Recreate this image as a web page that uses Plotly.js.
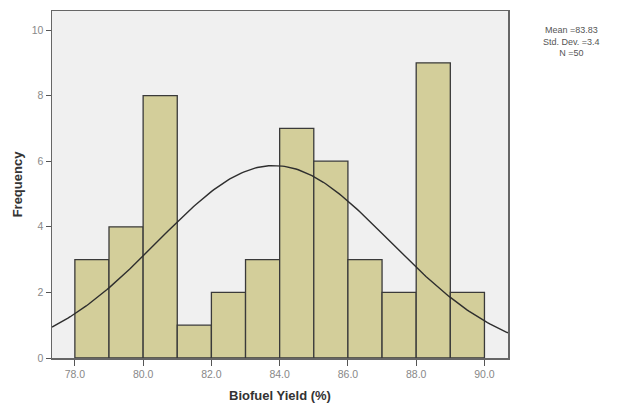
<!DOCTYPE html>
<html><head><meta charset="utf-8">
<script src="https://cdn.plot.ly/plotly-3.0.1.min.js"></script>
<style>body{margin:0;background:#fff}#c{width:625px;height:403px}</style>
</head><body><div id="c"></div>
<script>
const binStarts = [78,79,80,81,82,83,84,85,86,87,88,89];
const counts = [3,4,8,1,2,3,7,6,3,2,9,2];
const binWidth = 1;
const mean = 83.83, sd = 3.4, N = 50;
const xTicks = [78,80,82,84,86,88,90];
const xTickText = ["78.0","80.0","82.0","84.0","86.0","88.0","90.0"];
const yTicks = [0,2,4,6,8,10];

const centers = binStarts.map(s => s + binWidth/2);
const cx = [], cy = [];
for (let i = 0; i <= 200; i++) {
  const x = 77.33 + (90.69 - 77.33) * i / 200;
  cx.push(x);
  cy.push(N * binWidth / (sd * Math.sqrt(2*Math.PI)) * Math.exp(-0.5*Math.pow((x-mean)/sd,2)));
}
const traces = [
  {type:'bar', x: centers, y: counts, width: binWidth,
   marker:{color:'rgb(211,206,154)', line:{color:'#3a3a3a', width:1.3}}, hoverinfo:'none'},
  {type:'scatter', mode:'lines', x: cx, y: cy, line:{color:'#2e2e2e', width:1.4}, hoverinfo:'none'}
];
const layout = {
  width:625, height:403, showlegend:false,
  margin:{l:52, r:117, t:11, b:45},
  paper_bgcolor:'#fff', plot_bgcolor:'#f0f0f0',
  font:{family:'Liberation Sans, Arial, sans-serif', color:'#666', size:10},
  xaxis:{range:[77.33,90.69], tickvals:xTicks, ticktext:xTickText, ticks:'outside', ticklen:6,
    tickcolor:'#555', showgrid:false, zeroline:false, showline:true, mirror:true, linecolor:'#666', linewidth:1.5,
    tickfont:{size:10.5, color:'#888'},
    title:{text:'<b>Biofuel Yield (%)</b>', font:{size:13, color:'#333'}, standoff:13}},
  yaxis:{range:[0,10.58], tickvals:yTicks, ticks:'outside', ticklen:5, tickcolor:'#555',
    showgrid:false, zeroline:false, showline:true, mirror:true, linecolor:'#666', linewidth:1.5,
    tickfont:{size:10.5, color:'#888'},
    title:{text:'<b>Frequency</b>', font:{size:13, color:'#333'}, standoff:6}},
  annotations:[{xref:'paper', yref:'paper', x:1.14, y:0.965, xanchor:'center', yanchor:'top',
    showarrow:false, align:'center',
    text:'Mean =83.83<br>Std. Dev. =3.4<br>N =50', font:{size:9, color:'#555'}}]
};
Plotly.newPlot('c', traces, layout, {staticPlot:true});
</script></body></html>
